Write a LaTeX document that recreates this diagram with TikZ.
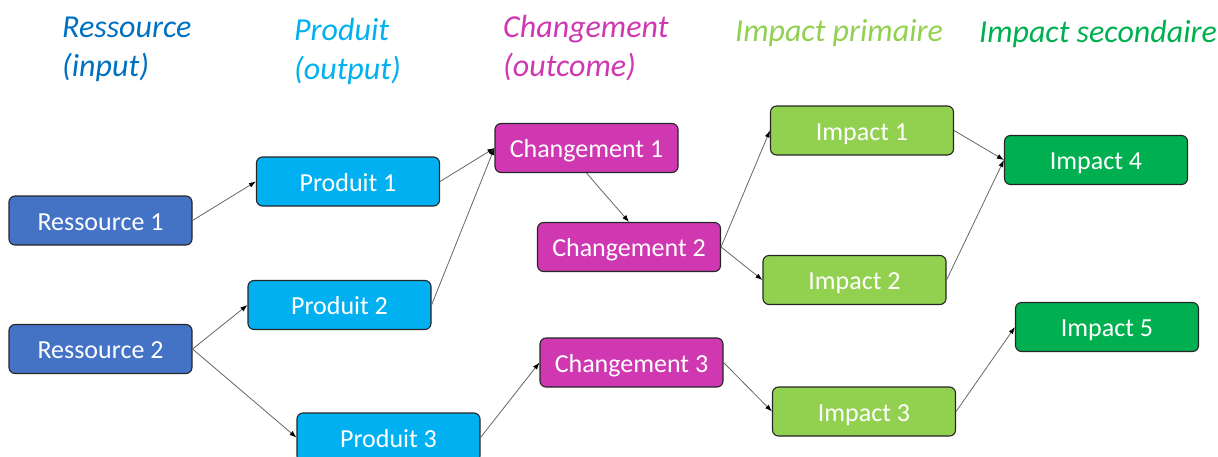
\documentclass[tikz,border=0pt]{standalone}
\usepackage{fontspec}
\setmainfont{Carlito}
\usetikzlibrary{arrows.meta}

\definecolor{resscol}{HTML}{4472C4}
\definecolor{resshead}{HTML}{0070C0}
\definecolor{prodcol}{HTML}{00B0F0}
\definecolor{chgcol}{HTML}{CF38B1}
\definecolor{impacol}{HTML}{92D050}
\definecolor{impbcol}{HTML}{00B050}

\tikzset{
  box/.style={draw=black!85, line width=1.1pt, rounded corners=6pt, text=white,
    minimum width=183pt, minimum height=49pt, inner sep=0pt,
    text height=22pt, text depth=3pt,
    font=\fontsize{26}{30}\selectfont},
  head/.style={anchor=base west, align=left, inner sep=0pt,
    font=\fontsize{32}{39}\selectfont\itshape},
  link/.style={draw=black!60, line width=0.8pt,
    -{Latex[length=7pt,width=5pt,color=black]}}
}

\begin{document}
\begin{tikzpicture}[x=1pt,y=-1pt]
\useasboundingbox (0,0) rectangle (1218,456);

% Column headings (two-line ones sit on their last baseline)
\node[head, text=resshead] (hress) at (62,76) {Ressource\\(input)};
\node[head, text=prodcol] (hprod) at (294,79) {Produit\\(output)};
\node[head, text=chgcol] (hchg) at (503,76) {Changement\\(outcome)};
\node[head, text=impacol] (himpa) at (735,41) {Impact primaire};
\node[head, text=impbcol] (himpb) at (979,42) {Impact secondaire};

% Ressources
\node[box, fill=resscol] (r1) at (100.5,220.5) {Ressource 1};
\node[box, fill=resscol] (r2) at (100.5,349) {Ressource 2};

% Produits
\node[box, fill=prodcol] (p1) at (348,181.5) {Produit 1};
\node[box, fill=prodcol] (p2) at (339.5,305) {Produit 2};
\node[box, fill=prodcol] (p3) at (388.5,437.5) {Produit 3};

% Changements
\node[box, fill=chgcol] (c1) at (586.5,148) {Changement 1};
\node[box, fill=chgcol] (c2) at (629,247) {Changement 2};
\node[box, fill=chgcol] (c3) at (631.5,362.5) {Changement 3};

% Impacts primaires
\node[box, fill=impacol] (i1) at (862,130.5) {Impact 1};
\node[box, fill=impacol] (i2) at (854.5,280) {Impact 2};
\node[box, fill=impacol] (i3) at (864,411.5) {Impact 3};

% Impacts secondaires
\node[box, fill=impbcol] (i4) at (1096,160) {Impact 4};
\node[box, fill=impbcol] (i5) at (1107,327) {Impact 5};

% Arrows
\draw[link] (r1.east) -- (p1.west);
\draw[link] (r2.east) -- (p2.west);
\draw[link] (r2.east) -- (p3.west);
\draw[link] (p1.east) -- (c1.west);
\draw[link] (p2.east) -- (c1.west);
\draw[link] (p3.east) -- (c3.west);
\draw[link] (c1.south) -- (c2.north);
\draw[link] (c2.east) -- (i1.west);
\draw[link] (c2.east) -- (i2.west);
\draw[link] (c3.east) -- (i3.west);
\draw[link] (i1.east) -- (i4.west);
\draw[link] (i2.east) -- (i4.west);
\draw[link] (i3.east) -- (i5.west);
\end{tikzpicture}
\end{document}
